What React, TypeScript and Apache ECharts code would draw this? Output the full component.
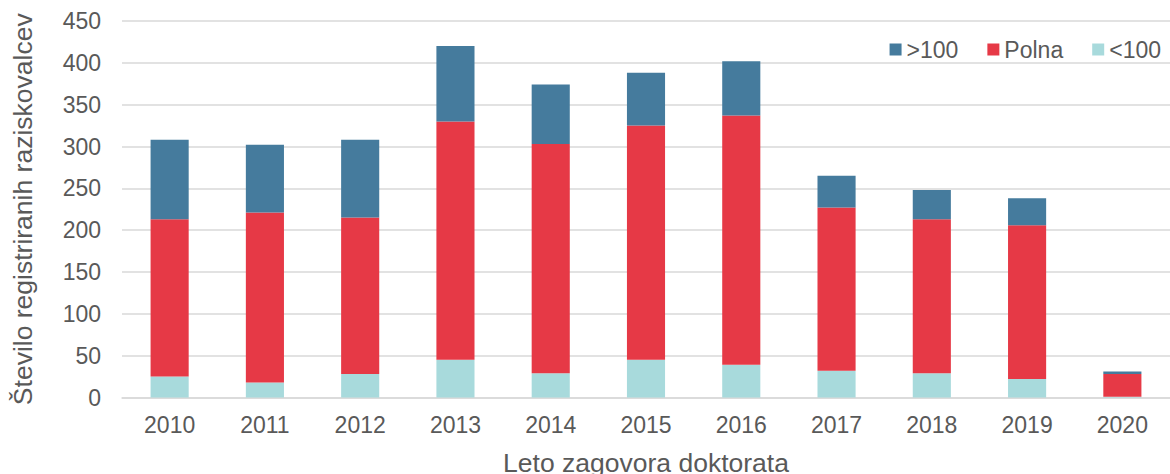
import React, { useEffect, useRef } from "react";
import * as echarts from "echarts";

const categories = ["2010", "2011", "2012", "2013", "2014", "2015", "2016", "2017", "2018", "2019", "2020"];
const under100 = [25, 18, 28, 45, 29, 45, 39, 32, 29, 22, 1];
const polna = [188, 203, 187, 285, 274, 280, 298, 195, 184, 184, 27];
const over100 = [95, 81, 93, 90, 71, 63, 65, 38, 35, 32, 3];
const seriesNames = [">100", "Polna", "<100"];

const FONT = "'Liberation Sans', Arial, sans-serif";
const TEXT = "#595959";
const GRID = "#d9d9d9";

export default function App() {
  const ref = useRef<HTMLDivElement>(null);
  useEffect(() => {
    if (!ref.current) return;
    const chart = echarts.init(ref.current, undefined, { renderer: "svg" });
    chart.setOption({
      animation: false,
      textStyle: { fontFamily: FONT, color: TEXT },
      grid: { left: 122, right: 0, top: 21, bottom: 76.5, containLabel: false, outerBoundsMode: "none" },
      legend: {
        data: seriesNames,
        right: 4,
        top: 33,
        icon: "rect",
        itemWidth: 12,
        itemHeight: 12,
        itemGap: 29,
        textStyle: { fontFamily: FONT, color: TEXT, fontSize: 23 },
      },
      xAxis: {
        type: "category",
        data: categories,
        axisTick: { show: false },
        axisLine: { lineStyle: { color: GRID, width: 1.5 } },
        axisLabel: { fontFamily: FONT, color: TEXT, fontSize: 23, margin: 16 },
        name: "Leto zagovora doktorata",
        nameLocation: "middle",
        nameGap: 52,
        nameTextStyle: { fontFamily: FONT, color: TEXT, fontSize: 26.5 },
      },
      yAxis: {
        type: "value",
        min: 0,
        max: 450,
        interval: 50,
        axisLine: { show: false },
        axisTick: { show: false },
        splitLine: { lineStyle: { color: GRID, width: 1.5 } },
        axisLabel: { fontFamily: FONT, color: TEXT, fontSize: 23, margin: 21 },
        name: "Število registriranih raziskovalcev",
        nameLocation: "middle",
        nameGap: 86,
        nameRotate: 90,
        nameTextStyle: { fontFamily: FONT, color: TEXT, fontSize: 26.5 },
      },
      series: [
        {
          name: "<100",
          type: "bar",
          stack: "total",
          data: under100,
          barWidth: "40%",
          itemStyle: { color: "#a8dadc" },
        },
        {
          name: "Polna",
          type: "bar",
          stack: "total",
          data: polna,
          barWidth: "40%",
          itemStyle: { color: "#e63946" },
        },
        {
          name: ">100",
          type: "bar",
          stack: "total",
          data: over100,
          barWidth: "40%",
          itemStyle: { color: "#457b9d" },
        },
      ],
    });
    return () => chart.dispose();
  }, []);
  return (
    <div
      ref={ref}
      style={{ position: "fixed", left: 0, top: 0, width: 1170, height: 474, background: "#fff" }}
    />
  );
}
